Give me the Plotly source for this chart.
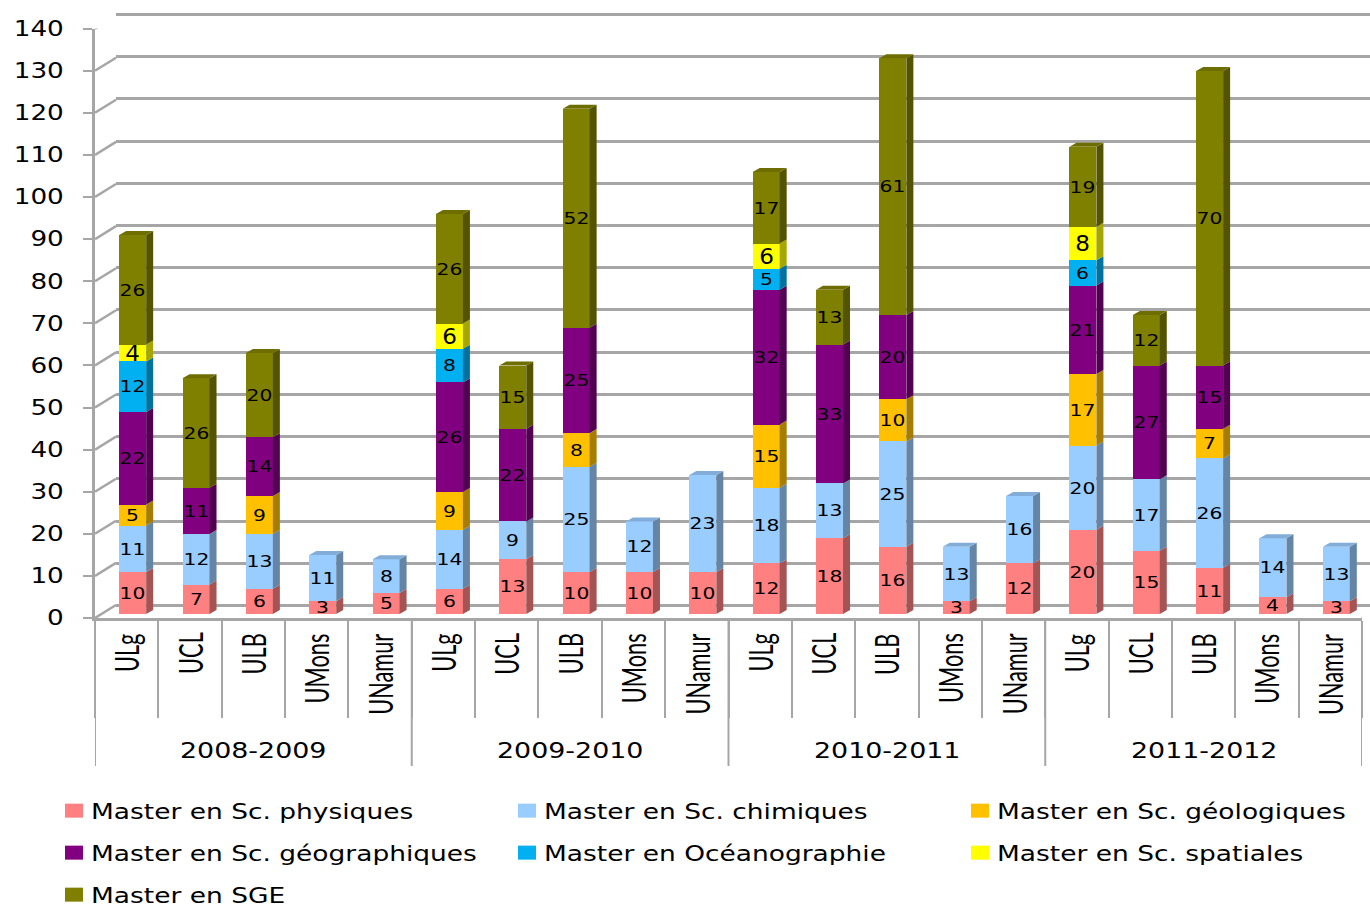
import plotly.graph_objects as go

# Enrolment by programme, university and academic year
years = ["2008-2009", "2009-2010", "2010-2011", "2011-2012"]
universities = ["ULg", "UCL", "ULB", "UMons", "UNamur"]

physique = [10, 7, 6, 3, 5, 6, 13, 10, 10, 10, 12, 18, 16, 3, 12, 20, 15, 11, 4, 3]
chimie = [11, 12, 13, 11, 8, 14, 9, 25, 12, 23, 18, 13, 25, 13, 16, 20, 17, 26, 14, 13]
geologie = [5, 0, 9, 0, 0, 9, 0, 8, 0, 0, 15, 0, 10, 0, 0, 17, 0, 7, 0, 0]
geographie = [22, 11, 14, 0, 0, 26, 22, 25, 0, 0, 32, 33, 20, 0, 0, 21, 27, 15, 0, 0]
oceano = [12, 0, 0, 0, 0, 8, 0, 0, 0, 0, 5, 0, 0, 0, 0, 6, 0, 0, 0, 0]
spatial = [4, 0, 0, 0, 0, 6, 0, 0, 0, 0, 6, 0, 0, 0, 0, 8, 0, 0, 0, 0]
sge = [26, 26, 20, 0, 0, 26, 15, 52, 0, 0, 17, 13, 61, 0, 0, 19, 12, 70, 0, 0]

series_names = ["Master en Sc. physiques", "Master en Sc. chimiques", "Master en Sc. géologiques",
                "Master en Sc. géographiques", "Master en Océanographie", "Master en Sc. spatiales",
                "Master en SGE"]
series_values = [physique, chimie, geologie, geographie, oceano, spatial, sge]
front_colors = ["#FF8080", "#99CCFF", "#FFC000", "#800080", "#00B0F0", "#FFFF00", "#808000"]
side_colors = ["#A65353", "#6485A6", "#A67D00", "#530053", "#0072A0", "#A6A600", "#535300"]
top_colors = ["#D96D6D", "#82ADD9", "#D9A300", "#6D006D", "#0096CC", "#D9D900", "#6D6D00"]
label_sizes = [16, 16, 16, 16, 16, 22, 16]

W, H = 1370, 907
SLOT = 63.35        # px per category
UNIT = 4.21         # px per student
GRID = "#A6A6A6"
FONT = "DejaVu Sans"


def dom_x(a, b):
    return [a / W, b / W]


def dom_y(top, bottom):
    return [1 - bottom / H, 1 - top / H]


fig = go.Figure()

# Bars sit on a plane slightly behind the front axis
BAR_W = 0.426
DX = 7 / SLOT
DY = 4 / UNIT
centers = [i + 0.5 for i in range(20)]
totals = [sum(col) for col in zip(*series_values)]
base = [0] * 20

for k, (name, vals) in enumerate(zip(series_names, series_values)):
    legend_id = "legend" if k == 0 else f"legend{k + 1}"
    fig.add_trace(go.Bar(
        x=centers, y=vals, name=name, width=BAR_W, xaxis="x3", yaxis="y3",
        marker=dict(color=front_colors[k], line=dict(width=0)),
        text=[str(v) if v else "" for v in vals], textposition="inside",
        insidetextanchor="middle", textangle=0, constraintext="none",
        insidetextfont=dict(family=FONT, size=label_sizes[k], color="#000000"),
        legend=legend_id, hoverinfo="name+y"))

    # Side faces of each stacked segment, top faces of the highest one
    sx, sy, tx, ty = [], [], [], []
    for c, v, b, total in zip(centers, vals, base, totals):
        if not v:
            continue
        l, r, t = c - BAR_W / 2, c + BAR_W / 2, b + v
        sx += [r, r + DX, r + DX, r, r, None]
        sy += [b, b + DY, t + DY, t, b, None]
        if t == total:
            tx += [l, l + DX, r + DX, r, l, None]
            ty += [t, t + DY, t + DY, t, t, None]
    base = [b + v for b, v in zip(base, vals)]
    fig.add_trace(go.Scatter(x=sx, y=sy, mode="lines", fill="toself", fillcolor=side_colors[k],
                             line=dict(width=0), xaxis="x3", yaxis="y3", showlegend=False,
                             hoverinfo="skip"))
    if tx:
        fig.add_trace(go.Scatter(x=tx, y=ty, mode="lines", fill="toself", fillcolor=top_colors[k],
                                 line=dict(width=0), xaxis="x3", yaxis="y3", showlegend=False,
                                 hoverinfo="skip"))

# Back wall carries the horizontal gridlines
fig.add_trace(go.Scatter(x=[0], y=[0], mode="markers", marker=dict(opacity=0), showlegend=False,
                         hoverinfo="skip", xaxis="x", yaxis="y"))

# Slanted links from the front axis to the back wall, plus the floor corner
ticks_y = list(range(0, 150, 10))
BX = 21 / SLOT
BY = 13 / UNIT
lx, ly = [], []
for v in ticks_y:
    lx += [0, BX, None]
    ly += [v, v + BY, None]
lx += [20, 20 + 8 / SLOT]
ly += [0, 5 / UNIT]
fig.add_trace(go.Scatter(x=lx, y=ly, mode="lines", line=dict(color=GRID, width=2.5), cliponaxis=False,
                         showlegend=False, hoverinfo="skip", xaxis="x2", yaxis="y2"))

shapes = []
annotations = []
# Long separators between the academic years
for g in range(len(years) + 1):
    shapes.append(dict(type="line", xref="x2", yref="paper", x0=g * 5, x1=g * 5,
                       y0=1 - 618 / H, y1=1 - 766 / H, line=dict(color=GRID, width=2)))

for g, year in enumerate(years):
    annotations.append(dict(text=year, xref="x2", yref="paper", x=g * 5 + 2.5, y=1 - 751 / H,
                            xanchor="center", yanchor="middle", showarrow=False,
                            font=dict(family=FONT, size=21, color="#000000")))
    for u, uni in enumerate(universities):
        annotations.append(dict(text=uni, xref="x2", yref="paper", x=g * 5 + u + 0.5, y=1 - 631 / H,
                                xanchor="center", yanchor="top", showarrow=False, textangle=-90,
                                font=dict(family="Lato", size=32, color="#000000")))

WALL = 591 / 140    # px per student on the back wall

layout = dict(
    width=W, height=H, margin=dict(l=0, r=0, t=0, b=0, autoexpand=False), autosize=False,
    paper_bgcolor="#FFFFFF", plot_bgcolor="rgba(0,0,0,0)", barmode="stack", bargap=0,
    shapes=shapes, annotations=annotations, hovermode="closest",
    xaxis=dict(domain=dom_x(116, 1370), range=[0, (1370 - 116) / SLOT], showgrid=False,
               zeroline=False, showticklabels=False, ticks="", anchor="y"),
    yaxis=dict(domain=dom_y(14.5 - WALL, 605.5 + WALL), range=[-1, 141], tickvals=ticks_y, showgrid=True,
               gridcolor=GRID, gridwidth=2.5, zeroline=False, showticklabels=False, ticks="",
               anchor="x"),
    xaxis2=dict(domain=dom_x(95, 1362), range=[0, 20], tickvals=list(range(21)), ticks="outside",
                ticklen=97, tickwidth=2, tickcolor=GRID, showticklabels=False, showgrid=False,
                zeroline=False, showline=True, linecolor=GRID, linewidth=3, anchor="y2"),
    yaxis2=dict(domain=dom_y(28.6, 618), range=[0, 140], tickvals=ticks_y, ticks="outside",
                ticklen=9, tickwidth=2, tickcolor=GRID, ticklabelstandoff=15, showgrid=False,
                zeroline=False, showline=True, linecolor=GRID, linewidth=3, anchor="x2",
                tickfont=dict(family=FONT, size=21, color="#000000")),
    xaxis3=dict(domain=dom_x(101, 1370), range=[0, (1370 - 101) / SLOT], visible=False, anchor="y3"),
    yaxis3=dict(domain=dom_y(0, 614), range=[0, 614 / UNIT], visible=False, anchor="x3"),
)

# One legend box per entry, laid out on a three-column grid
legend_cols = [51, 504, 957]
legend_rows = [811, 853, 895]
for k in range(len(series_names)):
    key = "legend" if k == 0 else f"legend{k + 1}"
    layout[key] = dict(x=legend_cols[k % 3] / W,
                       y=1 - legend_rows[k // 3] / H, xanchor="left", yanchor="middle",
                       bgcolor="rgba(0,0,0,0)", font=dict(family=FONT, size=21, color="#000000"))

fig.update_layout(**layout)

# Wide lettering for the chart text, narrow for the rotated university names,
# and larger legend swatches. The legends settle a moment after the first draw,
# so the pass repeats and only touches text that has not been scaled yet.
LETTERING = """
function stretch(el, s, where) {
  var t = el.getAttribute('transform') || '';
  if (t.indexOf(',1) translate(') >= 0) { return; }
  var b = el.getBBox();
  if (!b.width) { return; }
  var p = where === 'start' ? b.x : where === 'end' ? b.x + b.width : b.x + b.width / 2;
  el.setAttribute('transform', t + ' translate(' + p + ',0) scale(' + s + ',1) translate(' + (-p) + ',0)');
}
function freeClip(el) {
  for (var n = el.parentNode; n && n.tagName !== 'svg'; n = n.parentNode) {
    n.removeAttribute('clip-path');
    n.style.clipPath = 'none';
  }
}
function applyLettering() {
  document.querySelectorAll('text').forEach(function (e) {
    if (e.textContent.indexOf('Master') === 0) {
      stretch(e, 1.26, 'start');
      freeClip(e);
    }
  });
  document.querySelectorAll('.y2tick text').forEach(function (e) { stretch(e, 1.25, 'end'); });
  document.querySelectorAll('.bartext').forEach(function (e) {
    stretch(e, parseFloat(e.style.fontSize) > 20 ? 1.05 : 1.27, 'middle');
  });
  document.querySelectorAll('.annotation-text').forEach(function (e) {
    if (e.style.fontFamily.indexOf('Lato') >= 0) { stretch(e, 0.68, 'end'); }
    else { stretch(e, 1.28, 'middle'); }
  });
  document.querySelectorAll('.legendpoints path').forEach(function (e) {
    e.setAttribute('d', 'M12,7H-6V-7H12Z');
  });
}
applyLettering();
[50, 150, 300, 600, 1000].forEach(function (ms) { setTimeout(applyLettering, ms); });
"""
fig.write_html("out.html", post_script=LETTERING)
